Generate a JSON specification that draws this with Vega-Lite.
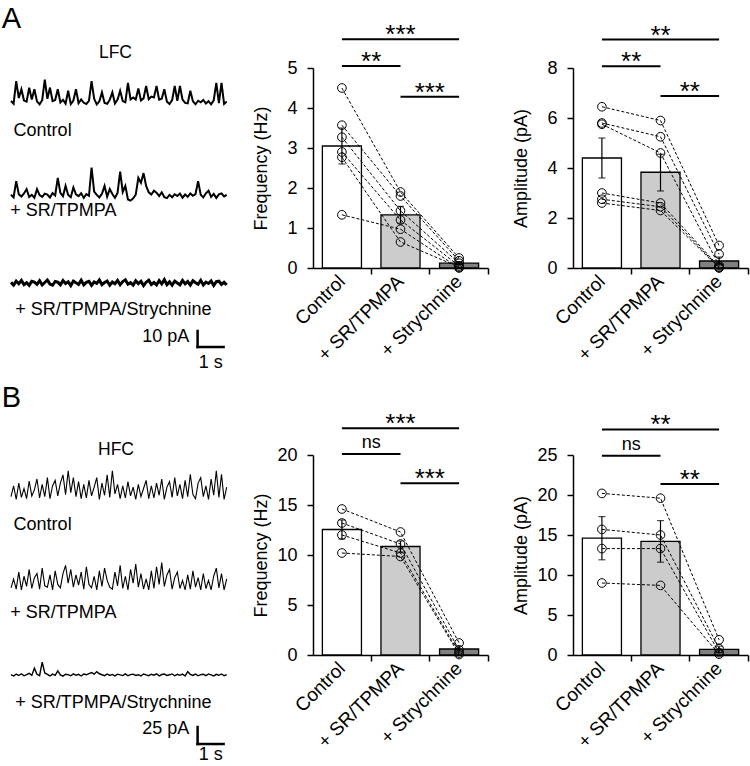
{
"$schema":"https://vega.github.io/schema/vega-lite/v6.json",
"background":"white",
"padding":{"left":1,"top":5,"right":2,"bottom":2},
"config":{"font":"Liberation Sans","view":{"stroke":null},
 "axis":{"domainColor":"black","domainWidth":1.5,"tickColor":"black","tickWidth":1.5,"tickSize":6,"labelColor":"black","titleColor":"black","labelFontSize":18,"titleFontSize":18,"titleFontWeight":"normal","grid":false,"labelFont":"Liberation Sans","titleFont":"Liberation Sans","labelOverlap":false,"tickCount":12},
 "text":{"color":"black"}},
"datasets":{
"traces":[
{"trace":"A1","t":[0,0.1,0.2,0.3,0.4,0.5,0.6,0.7,0.8,0.9,1,1.1,1.2,1.3,1.4,1.5,1.6,1.7,1.8,1.9,2,2.1,2.2,2.3,2.4,2.5,2.6,2.7,2.8,2.9,3,3.1,3.2,3.3,3.4,3.5,3.6,3.7,3.8,3.9,4,4.1,4.2,4.3,4.4,4.5,4.6,4.7,4.8,4.9,5,5.1,5.2,5.3,5.4,5.5,5.6,5.7,5.8,5.9,6,6.1,6.2,6.3,6.4,6.5,6.6,6.7,6.8,6.9,7,7.1,7.2,7.3,7.4,7.5,7.6,7.7,7.8,7.9,8,8.1,8.2,8.3],
 "v":[0.6,-1.1,13,2.5,8,0.9,0.2,9,1.5,8,0.4,-1.4,1.1,14,2.0,9,0.5,1.2,8,-0.3,1.4,-1.0,7,-1.3,0.9,8,-0.8,1.6,-0.5,-1.2,0.7,13,2.0,-1.5,0.4,6,-0.6,-1.1,1.3,6,-0.9,1.5,7,0.6,-0.2,12,1.6,2.8,1.5,8.5,1.0,2.3,10,1.8,3.4,2.9,10,1.5,2.0,8,0.2,-1.3,1.2,10,0.7,10,1.5,-0.6,-0.9,7,0.4,-1.4,0.8,-0.2,1.3,-1.0,0.5,-1.5,1.0,12,-0.7,12,-1.2,0.3]},
{"trace":"A2","t":[0,0.1,0.2,0.3,0.4,0.5,0.6,0.7,0.8,0.9,1,1.1,1.2,1.3,1.4,1.5,1.6,1.7,1.8,1.9,2,2.1,2.2,2.3,2.4,2.5,2.6,2.7,2.8,2.9,3,3.1,3.2,3.3,3.4,3.5,3.6,3.7,3.8,3.9,4,4.1,4.2,4.3,4.4,4.5,4.6,4.7,4.8,4.9,5,5.1,5.2,5.3,5.4,5.5,5.6,5.7,5.8,5.9,6,6.1,6.2,6.3,6.4,6.5,6.6,6.7,6.8,6.9,7,7.1,7.2,7.3,7.4,7.5,7.6,7.7,7.8,7.9,8,8.1,8.2,8.3],
 "v":[0.5,-1.2,9,0.8,-0.6,1.3,4,-1.0,0.4,-1.4,4,0.2,-0.9,1.2,0.6,-1.3,1.5,0.0,11,1.6,-0.5,6,0.3,-1.1,5,0.7,-0.4,1.4,-1.5,0.9,-0.2,17.5,2.5,0.4,-1.2,1.1,6,-0.7,4,0.9,-1.4,1.6,15,2.2,6,-2.5,-3.2,-1.8,0.5,11,8,14,6,2.0,0.6,3,1.8,-0.4,1.9,-1.0,-1.6,0.4,-1.1,0.8,-0.3,1.2,-1.4,0.6,-0.8,1.3,-0.2,0.9,9,0.5,-1.2,1.4,3,-0.9,1.0,-1.5,0.7,1.3,-0.6,0.4]},
{"trace":"A3","t":[0,0.1,0.2,0.3,0.4,0.5,0.6,0.7,0.8,0.9,1,1.1,1.2,1.3,1.4,1.5,1.6,1.7,1.8,1.9,2,2.1,2.2,2.3,2.4,2.5,2.6,2.7,2.8,2.9,3,3.1,3.2,3.3,3.4,3.5,3.6,3.7,3.8,3.9,4,4.1,4.2,4.3,4.4,4.5,4.6,4.7,4.8,4.9,5,5.1,5.2,5.3,5.4,5.5,5.6,5.7,5.8,5.9,6,6.1,6.2,6.3,6.4,6.5,6.6,6.7,6.8,6.9,7,7.1,7.2,7.3,7.4,7.5,7.6,7.7,7.8,7.9,8,8.1,8.2,8.3],
 "v":[0.4,-1.3,1.2,-0.5,1.6,-1.0,0.2,-1.5,1.1,0.6,-0.8,1.4,-1.2,0.3,1.8,-0.7,-1.4,1.0,0.5,-1.1,1.5,-0.3,0.8,-1.6,1.2,0.1,-0.9,1.7,-1.2,0.4,1.0,-1.5,0.7,-0.2,1.9,-1.0,0.3,1.2,-1.4,0.6,-0.5,1.6,-1.1,0.9,2.0,-0.8,0.2,-1.3,1.4,-0.4,1.1,-1.6,0.5,1.8,-0.9,0.3,-1.2,1.5,-0.6,2.1,-1.0,0.7,-1.4,1.2,0.0,-1.1,1.6,-0.5,0.9,-1.3,1.4,0.2,-0.8,1.7,-1.2,0.6,-0.3,1.3,-1.5,0.8,1.1,-0.9,0.4,-1.2]},
{"trace":"B1","t":[0,0.1,0.2,0.3,0.4,0.5,0.6,0.7,0.8,0.9,1,1.1,1.2,1.3,1.4,1.5,1.6,1.7,1.8,1.9,2,2.1,2.2,2.3,2.4,2.5,2.6,2.7,2.8,2.9,3,3.1,3.2,3.3,3.4,3.5,3.6,3.7,3.8,3.9,4,4.1,4.2,4.3,4.4,4.5,4.6,4.7,4.8,4.9,5,5.1,5.2,5.3,5.4,5.5,5.6,5.7,5.8,5.9,6,6.1,6.2,6.3,6.4,6.5,6.6,6.7,6.8,6.9,7,7.1,7.2,7.3,7.4,7.5,7.6,7.7,7.8,7.9,8,8.1,8.2,8.3],
 "v":[2,18,-2,22,1,14,-1,25,3,12,28,0,20,2,30,-1,18,26,3,22,34,5,40,8,30,2,24,-1,20,0,26,3,16,30,-2,22,4,34,1,40,6,20,-1,18,0,24,3,16,-2,20,2,14,26,-1,18,0,22,4,28,-2,16,24,1,30,3,20,-1,26,2,35,5,-1,22,30,2,18,-2,28,4,40,1,35,-2,16]},
{"trace":"B2","t":[0,0.1,0.2,0.3,0.4,0.5,0.6,0.7,0.8,0.9,1,1.1,1.2,1.3,1.4,1.5,1.6,1.7,1.8,1.9,2,2.1,2.2,2.3,2.4,2.5,2.6,2.7,2.8,2.9,3,3.1,3.2,3.3,3.4,3.5,3.6,3.7,3.8,3.9,4,4.1,4.2,4.3,4.4,4.5,4.6,4.7,4.8,4.9,5,5.1,5.2,5.3,5.4,5.5,5.6,5.7,5.8,5.9,6,6.1,6.2,6.3,6.4,6.5,6.6,6.7,6.8,6.9,7,7.1,7.2,7.3,7.4,7.5,7.6,7.7,7.8,7.9,8,8.1,8.2,8.3],
 "v":[1,14,-1,24,-2,18,3,28,0,16,22,-1,30,4,2,20,-2,26,6,1,22,34,8,28,2,20,5,24,-1,32,6,1,18,-2,26,3,30,12,2,-1,24,4,34,0,18,-2,28,8,36,2,22,-1,14,-2,26,0,32,6,38,3,20,28,-1,16,24,0,12,-2,20,-1,26,2,16,-2,22,0,12,-2,18,30,1,22,-2,14]},
{"trace":"B3","t":[0,0.1,0.2,0.3,0.4,0.5,0.6,0.7,0.8,0.9,1,1.1,1.2,1.3,1.4,1.5,1.6,1.7,1.8,1.9,2,2.1,2.2,2.3,2.4,2.5,2.6,2.7,2.8,2.9,3,3.1,3.2,3.3,3.4,3.5,3.6,3.7,3.8,3.9,4,4.1,4.2,4.3,4.4,4.5,4.6,4.7,4.8,4.9,5,5.1,5.2,5.3,5.4,5.5,5.6,5.7,5.8,5.9,6,6.1,6.2,6.3,6.4,6.5,6.6,6.7,6.8,6.9,7,7.1,7.2,7.3,7.4,7.5,7.6,7.7,7.8,7.9,8,8.1,8.2,8.3],
 "v":[0.5,-1.5,1.2,-0.8,1.8,-1.2,0.4,2.5,-0.6,10,1.0,-0.9,19,3.0,0.8,-1.4,1.3,-0.5,6,0.2,-1.6,1.1,0.5,-1.2,1.6,-0.4,0.9,-1.5,1.4,0.3,2.0,3.5,1.2,5,1.8,0.4,-1.0,1.5,-0.6,0.8,-1.3,1.2,0.1,-0.9,1.7,-1.1,0.6,1.3,-0.7,0.4,-1.4,1.5,0.2,-1.0,1.1,-0.3,1.8,-1.2,0.7,1.4,-0.8,0.3,1.6,-1.1,0.9,-0.5,1.3,-1.4,5,1.0,-0.6,1.4,-1.2,0.5,1.1,-0.9,1.6,0.2,-1.3,1.0,-0.4,1.5,-1.1,0.6]}
],
"bars":[
 {"panel":"fA","cond":"Control","mean":3.05,"lo":2.6,"hi":3.5},
 {"panel":"fA","cond":"+ SR/TPMPA","mean":1.33,"lo":1.12,"hi":1.54},
 {"panel":"fA","cond":"+ Strychnine","mean":0.12,"lo":0.08,"hi":0.16},
 {"panel":"aA","cond":"Control","mean":4.4,"lo":3.6,"hi":5.2},
 {"panel":"aA","cond":"+ SR/TPMPA","mean":3.83,"lo":3.08,"hi":4.55},
 {"panel":"aA","cond":"+ Strychnine","mean":0.28,"lo":0.12,"hi":0.44},
 {"panel":"fB","cond":"Control","mean":12.55,"lo":11.6,"hi":13.5},
 {"panel":"fB","cond":"+ SR/TPMPA","mean":10.85,"lo":10.3,"hi":11.4},
 {"panel":"fB","cond":"+ Strychnine","mean":0.6,"lo":0.3,"hi":0.9},
 {"panel":"aB","cond":"Control","mean":14.6,"lo":11.9,"hi":17.3},
 {"panel":"aB","cond":"+ SR/TPMPA","mean":14.2,"lo":11.6,"hi":16.8},
 {"panel":"aB","cond":"+ Strychnine","mean":0.7,"lo":0.3,"hi":1.1}
],
"pts":[
 {"panel":"fA","cond":"Control","k":1,"cell":[1,2,3,4,5,6],"val":[4.5,3.57,3.27,2.9,2.77,1.33]},
 {"panel":"fA","cond":"+ SR/TPMPA","k":2,"cell":[1,2,3,4,5,6],"val":[1.9,1.8,1.43,1.2,0.65,0.97]},
 {"panel":"fA","cond":"+ Strychnine","k":3,"cell":[1,2,3,4,5,6],"val":[0.25,0.18,0.12,0.05,0.02,0.0]},
 {"panel":"aA","cond":"Control","k":1,"cell":[1,2,3,4,5,6],"val":[6.45,5.8,5.75,3.0,2.75,2.6]},
 {"panel":"aA","cond":"+ SR/TPMPA","k":2,"cell":[1,2,3,4,5,6],"val":[5.9,5.25,4.6,2.6,2.45,2.3]},
 {"panel":"aA","cond":"+ Strychnine","k":3,"cell":[1,2,3,4,5,6],"val":[0.9,0.55,0.1,0.05,0.02,0.0]},
 {"panel":"fB","cond":"Control","k":1,"cell":[1,2,3,4],"val":[14.6,13.2,12.0,10.2]},
 {"panel":"fB","cond":"+ SR/TPMPA","k":2,"cell":[1,2,3,4],"val":[12.3,11.1,10.2,9.85]},
 {"panel":"fB","cond":"+ Strychnine","k":3,"cell":[1,2,3,4],"val":[1.2,0.5,0.2,0.05]},
 {"panel":"aB","cond":"Control","k":1,"cell":[1,2,3,4],"val":[20.2,15.7,13.3,9.0]},
 {"panel":"aB","cond":"+ SR/TPMPA","k":2,"cell":[1,2,3,4],"val":[19.6,15.0,13.3,8.7]},
 {"panel":"aB","cond":"+ Strychnine","k":3,"cell":[1,2,3,4],"val":[1.9,0.8,0.3,0.1]}
],
"sig":[
 {"panel":"fA","g1":"Control","g2":"+ Strychnine","span":"wide","level":5.72,"label":"***"},
 {"panel":"fA","g1":"Control","g2":"+ SR/TPMPA","span":"pair","level":5.05,"label":"**"},
 {"panel":"fA","g1":"+ SR/TPMPA","g2":"+ Strychnine","span":"pair","level":4.28,"label":"***"},
 {"panel":"aA","g1":"Control","g2":"+ Strychnine","span":"wide","level":9.14,"label":"**"},
 {"panel":"aA","g1":"Control","g2":"+ SR/TPMPA","span":"pair","level":8.07,"label":"**"},
 {"panel":"aA","g1":"+ SR/TPMPA","g2":"+ Strychnine","span":"pair","level":6.88,"label":"**"},
 {"panel":"fB","g1":"Control","g2":"+ Strychnine","span":"wide","level":22.67,"label":"***"},
 {"panel":"fB","g1":"Control","g2":"+ SR/TPMPA","span":"pair","level":20.1,"label":"ns"},
 {"panel":"fB","g1":"+ SR/TPMPA","g2":"+ Strychnine","span":"pair","level":17.17,"label":"***"},
 {"panel":"aB","g1":"Control","g2":"+ Strychnine","span":"wide","level":28.2,"label":"**"},
 {"panel":"aB","g1":"Control","g2":"+ SR/TPMPA","span":"pair","level":24.9,"label":"ns"},
 {"panel":"aB","g1":"+ SR/TPMPA","g2":"+ Strychnine","span":"pair","level":21.36,"label":"**"}
]
},
"columns":3,
"spacing":{"row":87,"column":85},
"bounds":"flush",
"align":"each",
"concat":[
{"width":217,"height":300,"resolve":{"scale":{"y":"independent"}},
 "layer":[
  {"layer":[
   {"data":{"name":"traces"},"transform":[{"filter":"datum.trace==='A1'"},{"flatten":["t","v"]}],"mark":{"type":"line","color":"black","strokeWidth":2},
    "encoding":{"x":{"field":"t","type":"quantitative","scale":{"domain":[0,8.35],"nice":false,"zero":false},"axis":null},"y":{"field":"v","type":"quantitative","scale":{"domain":[-166.25,21.25],"nice":false,"zero":false},"axis":null}}},
   {"data":{"values":[{}]},"mark":{"type":"text","text":"A","fontSize":29,"align":"left","baseline":"alphabetic"},"encoding":{"x":{"datum":-0.36},"y":{"datum":46.25}}},
   {"data":{"values":[{}]},"mark":{"type":"text","text":"LFC","fontSize":17.5,"align":"center","baseline":"alphabetic"},"encoding":{"x":{"datum":4.02},"y":{"datum":27.3}}},
   {"data":{"values":[{}]},"mark":{"type":"text","text":"Control","fontSize":18,"align":"left","baseline":"alphabetic"},"encoding":{"x":{"datum":0.1},"y":{"datum":-21.25}}}
  ]},
  {"layer":[
   {"data":{"name":"traces"},"transform":[{"filter":"datum.trace==='A2'"},{"flatten":["t","v"]}],"mark":{"type":"line","color":"black","strokeWidth":2},
    "encoding":{"x":{"field":"t","type":"quantitative","scale":{"domain":[0,8.35],"nice":false,"zero":false},"axis":null},"y":{"field":"v","type":"quantitative","scale":{"domain":[-107.81,79.69],"nice":false,"zero":false},"axis":null}}},
   {"data":{"values":[{}]},"mark":{"type":"text","text":"+ SR/TPMPA","fontSize":18,"align":"left","baseline":"alphabetic"},"encoding":{"x":{"datum":-0.03},"y":{"datum":-12.81}}}
  ]},
  {"layer":[
   {"data":{"name":"traces"},"transform":[{"filter":"datum.trace==='A3'"},{"flatten":["t","v"]}],"mark":{"type":"line","color":"black","strokeWidth":3},
    "encoding":{"x":{"field":"t","type":"quantitative","scale":{"domain":[0,8.35],"nice":false,"zero":false},"axis":null},"y":{"field":"v","type":"quantitative","scale":{"domain":[-53.125,134.375],"nice":false,"zero":false},"axis":null}}},
   {"data":{"values":[{}]},"mark":{"type":"text","text":"+ SR/TPMPA/Strychnine","fontSize":18,"align":"left","baseline":"alphabetic"},"encoding":{"x":{"datum":0.165},"y":{"datum":-20}}},
   {"data":{"values":[{}]},"mark":{"type":"text","text":"10 pA","fontSize":18,"align":"right","baseline":"alphabetic"},"encoding":{"x":{"datum":6.86},"y":{"datum":-36.875}}},
   {"data":{"values":[{}]},"mark":{"type":"rule","color":"black","strokeWidth":2.5,"strokeCap":"square"},"encoding":{"x":{"datum":7.18},"y":{"datum":-40},"y2":{"datum":-30}}},
   {"data":{"values":[{}]},"mark":{"type":"rule","color":"black","strokeWidth":2.5,"strokeCap":"square"},"encoding":{"x":{"datum":7.18},"x2":{"datum":8.18},"y":{"datum":-40}}},
   {"data":{"values":[{}]},"mark":{"type":"text","text":"1 s","fontSize":18,"align":"center","baseline":"alphabetic"},"encoding":{"x":{"datum":7.69},"y":{"datum":-53.125}}}
  ]}
 ]},
{"width":175,"height":200,
 "layer":[
  {"data":{"name":"bars"},"transform":[{"filter":"datum.panel==='fA'"}],"mark":{"type":"bar","stroke":"black","strokeWidth":1.3},
   "encoding":{"x":{"field":"cond","type":"nominal","title":null,"scale":{"domain":["Control","+ SR/TPMPA","+ Strychnine"],"paddingInner":0.333,"paddingOuter":0.16},"axis":{"labelAngle":-45,"labelAlign":"right","labelBaseline":"middle","labelPadding":4,"labelFontSize":19,"bandPosition":1.25}},
    "y":{"field":"mean","type":"quantitative","title":"Frequency (Hz)","scale":{"domain":[0,5],"nice":false},"axis":{"values":[0,1,2,3,4,5],"format":"d","titleX":-43,"labelPadding":10}},
    "fill":{"field":"cond","type":"nominal","scale":{"domain":["Control","+ SR/TPMPA","+ Strychnine"],"range":["#ffffff","#cccccc","#808080"]},"legend":null}}},
  {"data":{"name":"bars"},"transform":[{"filter":"datum.panel==='fA'"}],"mark":{"type":"rule","color":"black","strokeWidth":1.2},
   "encoding":{"x":{"field":"cond","type":"nominal"},"y":{"field":"lo","type":"quantitative"},"y2":{"field":"hi"}}},
  {"data":{"name":"bars"},"transform":[{"filter":"datum.panel==='fA'"}],"mark":{"type":"tick","color":"black","thickness":1.2,"size":7},
   "encoding":{"x":{"field":"cond","type":"nominal"},"y":{"field":"lo","type":"quantitative"}}},
  {"data":{"name":"bars"},"transform":[{"filter":"datum.panel==='fA'"}],"mark":{"type":"tick","color":"black","thickness":1.2,"size":7},
   "encoding":{"x":{"field":"cond","type":"nominal"},"y":{"field":"hi","type":"quantitative"}}},
  {"data":{"name":"pts"},"transform":[{"filter":"datum.panel==='fA'"},{"flatten":["cell","val"]}],"mark":{"type":"line","color":"black","strokeWidth":1,"strokeDash":[3,2]},
   "encoding":{"x":{"field":"cond","type":"nominal"},"y":{"field":"val","type":"quantitative"},"detail":{"field":"cell","type":"nominal"},"order":{"field":"k","type":"quantitative"}}},
  {"data":{"name":"pts"},"transform":[{"filter":"datum.panel==='fA'"},{"flatten":["cell","val"]}],"mark":{"type":"point","shape":"circle","filled":false,"color":"black","strokeWidth":1,"size":75,"opacity":1},
   "encoding":{"x":{"field":"cond","type":"nominal"},"y":{"field":"val","type":"quantitative"}}},
  {"data":{"name":"sig"},"transform":[{"filter":"datum.panel==='fA'"}],"mark":{"type":"rule","color":"black","strokeWidth":2},
   "encoding":{"x":{"field":"g1","type":"nominal","bandPosition":0.5},"x2":{"field":"g2","bandPosition":0.5},"y":{"field":"level","type":"quantitative"}}},
  {"data":{"name":"sig"},"transform":[{"filter":"datum.panel==='fA' && datum.span==='wide'"}],"mark":{"type":"text","fontSize":26,"dy":4,"align":"center","baseline":"alphabetic"},
   "encoding":{"x":{"field":"g1","type":"nominal","bandPosition":2},"y":{"field":"level","type":"quantitative"},"text":{"field":"label"}}},
  {"data":{"name":"sig"},"transform":[{"filter":"datum.panel==='fA' && datum.span==='pair' && datum.label!=='ns'"}],"mark":{"type":"text","fontSize":26,"dy":4,"align":"center","baseline":"alphabetic"},
   "encoding":{"x":{"field":"g1","type":"nominal","bandPosition":1.25},"y":{"field":"level","type":"quantitative"},"text":{"field":"label"}}}
 ]},
{"width":175,"height":200,
 "layer":[
  {"data":{"name":"bars"},"transform":[{"filter":"datum.panel==='aA'"}],"mark":{"type":"bar","stroke":"black","strokeWidth":1.3},
   "encoding":{"x":{"field":"cond","type":"nominal","title":null,"scale":{"domain":["Control","+ SR/TPMPA","+ Strychnine"],"paddingInner":0.333,"paddingOuter":0.16},"axis":{"labelAngle":-45,"labelAlign":"right","labelBaseline":"middle","labelPadding":4,"labelFontSize":19,"bandPosition":1.25}},
    "y":{"field":"mean","type":"quantitative","title":"Amplitude (pA)","scale":{"domain":[0,8],"nice":false},"axis":{"values":[0,2,4,6,8],"format":"d","titleX":-43,"labelPadding":10}},
    "fill":{"field":"cond","type":"nominal","scale":{"domain":["Control","+ SR/TPMPA","+ Strychnine"],"range":["#ffffff","#cccccc","#808080"]},"legend":null}}},
  {"data":{"name":"bars"},"transform":[{"filter":"datum.panel==='aA'"}],"mark":{"type":"rule","color":"black","strokeWidth":1.2},
   "encoding":{"x":{"field":"cond","type":"nominal"},"y":{"field":"lo","type":"quantitative"},"y2":{"field":"hi"}}},
  {"data":{"name":"bars"},"transform":[{"filter":"datum.panel==='aA'"}],"mark":{"type":"tick","color":"black","thickness":1.2,"size":7},
   "encoding":{"x":{"field":"cond","type":"nominal"},"y":{"field":"lo","type":"quantitative"}}},
  {"data":{"name":"bars"},"transform":[{"filter":"datum.panel==='aA'"}],"mark":{"type":"tick","color":"black","thickness":1.2,"size":7},
   "encoding":{"x":{"field":"cond","type":"nominal"},"y":{"field":"hi","type":"quantitative"}}},
  {"data":{"name":"pts"},"transform":[{"filter":"datum.panel==='aA'"},{"flatten":["cell","val"]}],"mark":{"type":"line","color":"black","strokeWidth":1,"strokeDash":[3,2]},
   "encoding":{"x":{"field":"cond","type":"nominal"},"y":{"field":"val","type":"quantitative"},"detail":{"field":"cell","type":"nominal"},"order":{"field":"k","type":"quantitative"}}},
  {"data":{"name":"pts"},"transform":[{"filter":"datum.panel==='aA'"},{"flatten":["cell","val"]}],"mark":{"type":"point","shape":"circle","filled":false,"color":"black","strokeWidth":1,"size":75,"opacity":1},
   "encoding":{"x":{"field":"cond","type":"nominal"},"y":{"field":"val","type":"quantitative"}}},
  {"data":{"name":"sig"},"transform":[{"filter":"datum.panel==='aA'"}],"mark":{"type":"rule","color":"black","strokeWidth":2},
   "encoding":{"x":{"field":"g1","type":"nominal","bandPosition":0.5},"x2":{"field":"g2","bandPosition":0.5},"y":{"field":"level","type":"quantitative"}}},
  {"data":{"name":"sig"},"transform":[{"filter":"datum.panel==='aA' && datum.span==='wide'"}],"mark":{"type":"text","fontSize":26,"dy":4,"align":"center","baseline":"alphabetic"},
   "encoding":{"x":{"field":"g1","type":"nominal","bandPosition":2},"y":{"field":"level","type":"quantitative"},"text":{"field":"label"}}},
  {"data":{"name":"sig"},"transform":[{"filter":"datum.panel==='aA' && datum.span==='pair' && datum.label!=='ns'"}],"mark":{"type":"text","fontSize":26,"dy":4,"align":"center","baseline":"alphabetic"},
   "encoding":{"x":{"field":"g1","type":"nominal","bandPosition":1.25},"y":{"field":"level","type":"quantitative"},"text":{"field":"label"}}}
 ]},
{"width":217,"height":300,"resolve":{"scale":{"y":"independent"}},
 "layer":[
  {"layer":[
   {"data":{"name":"traces"},"transform":[{"filter":"datum.trace==='B1'"},{"flatten":["t","v"]}],"mark":{"type":"line","color":"black","strokeWidth":1.1},
    "encoding":{"x":{"field":"t","type":"quantitative","scale":{"domain":[0,8.35],"nice":false,"zero":false},"axis":null},"y":{"field":"v","type":"quantitative","scale":{"domain":[-377.94,63.24],"nice":false,"zero":false},"axis":null}}},
   {"data":{"values":[{}]},"mark":{"type":"text","text":"B","fontSize":29,"align":"left","baseline":"alphabetic"},"encoding":{"x":{"datum":-0.36},"y":{"datum":133.8}}},
   {"data":{"values":[{}]},"mark":{"type":"text","text":"HFC","fontSize":17.5,"align":"center","baseline":"alphabetic"},"encoding":{"x":{"datum":4.04},"y":{"datum":63.24}}},
   {"data":{"values":[{}]},"mark":{"type":"text","text":"Control","fontSize":18,"align":"left","baseline":"alphabetic"},"encoding":{"x":{"datum":0.1},"y":{"datum":-47.06}}}
  ]},
  {"layer":[
   {"data":{"name":"traces"},"transform":[{"filter":"datum.trace==='B2'"},{"flatten":["t","v"]}],"mark":{"type":"line","color":"black","strokeWidth":1.1},
    "encoding":{"x":{"field":"t","type":"quantitative","scale":{"domain":[0,8.35],"nice":false,"zero":false},"axis":null},"y":{"field":"v","type":"quantitative","scale":{"domain":[-244.86,196.32],"nice":false,"zero":false},"axis":null}}},
   {"data":{"values":[{}]},"mark":{"type":"text","text":"+ SR/TPMPA","fontSize":18,"align":"left","baseline":"alphabetic"},"encoding":{"x":{"datum":-0.03},"y":{"datum":-43.4}}}
  ]},
  {"layer":[
   {"data":{"name":"traces"},"transform":[{"filter":"datum.trace==='B3'"},{"flatten":["t","v"]}],"mark":{"type":"line","color":"black","strokeWidth":1.4},
    "encoding":{"x":{"field":"t","type":"quantitative","scale":{"domain":[0,8.35],"nice":false,"zero":false},"axis":null},"y":{"field":"v","type":"quantitative","scale":{"domain":[-117.65,323.53],"nice":false,"zero":false},"axis":null}}},
   {"data":{"values":[{}]},"mark":{"type":"text","text":"+ SR/TPMPA/Strychnine","fontSize":18,"align":"left","baseline":"alphabetic"},"encoding":{"x":{"datum":0.165},"y":{"datum":-48.5}}},
   {"data":{"values":[{}]},"mark":{"type":"text","text":"25 pA","fontSize":18,"align":"right","baseline":"alphabetic"},"encoding":{"x":{"datum":6.86},"y":{"datum":-86.8}}},
   {"data":{"values":[{}]},"mark":{"type":"rule","color":"black","strokeWidth":2.5,"strokeCap":"square"},"encoding":{"x":{"datum":7.18},"y":{"datum":-101.5},"y2":{"datum":-76.5}}},
   {"data":{"values":[{}]},"mark":{"type":"rule","color":"black","strokeWidth":2.5,"strokeCap":"square"},"encoding":{"x":{"datum":7.18},"x2":{"datum":8.18},"y":{"datum":-101.5}}},
   {"data":{"values":[{}]},"mark":{"type":"text","text":"1 s","fontSize":18,"align":"center","baseline":"alphabetic"},"encoding":{"x":{"datum":7.69},"y":{"datum":-125}}}
  ]}
 ]},
{"width":175,"height":200,
 "layer":[
  {"data":{"name":"bars"},"transform":[{"filter":"datum.panel==='fB'"}],"mark":{"type":"bar","stroke":"black","strokeWidth":1.3},
   "encoding":{"x":{"field":"cond","type":"nominal","title":null,"scale":{"domain":["Control","+ SR/TPMPA","+ Strychnine"],"paddingInner":0.333,"paddingOuter":0.16},"axis":{"labelAngle":-45,"labelAlign":"right","labelBaseline":"middle","labelPadding":4,"labelFontSize":19,"bandPosition":1.25}},
    "y":{"field":"mean","type":"quantitative","title":"Frequency (Hz)","scale":{"domain":[0,20],"nice":false},"axis":{"values":[0,5,10,15,20],"format":"d","titleX":-43,"labelPadding":10}},
    "fill":{"field":"cond","type":"nominal","scale":{"domain":["Control","+ SR/TPMPA","+ Strychnine"],"range":["#ffffff","#cccccc","#808080"]},"legend":null}}},
  {"data":{"name":"bars"},"transform":[{"filter":"datum.panel==='fB'"}],"mark":{"type":"rule","color":"black","strokeWidth":1.2},
   "encoding":{"x":{"field":"cond","type":"nominal"},"y":{"field":"lo","type":"quantitative"},"y2":{"field":"hi"}}},
  {"data":{"name":"bars"},"transform":[{"filter":"datum.panel==='fB'"}],"mark":{"type":"tick","color":"black","thickness":1.2,"size":7},
   "encoding":{"x":{"field":"cond","type":"nominal"},"y":{"field":"lo","type":"quantitative"}}},
  {"data":{"name":"bars"},"transform":[{"filter":"datum.panel==='fB'"}],"mark":{"type":"tick","color":"black","thickness":1.2,"size":7},
   "encoding":{"x":{"field":"cond","type":"nominal"},"y":{"field":"hi","type":"quantitative"}}},
  {"data":{"name":"pts"},"transform":[{"filter":"datum.panel==='fB'"},{"flatten":["cell","val"]}],"mark":{"type":"line","color":"black","strokeWidth":1,"strokeDash":[3,2]},
   "encoding":{"x":{"field":"cond","type":"nominal"},"y":{"field":"val","type":"quantitative"},"detail":{"field":"cell","type":"nominal"},"order":{"field":"k","type":"quantitative"}}},
  {"data":{"name":"pts"},"transform":[{"filter":"datum.panel==='fB'"},{"flatten":["cell","val"]}],"mark":{"type":"point","shape":"circle","filled":false,"color":"black","strokeWidth":1,"size":75,"opacity":1},
   "encoding":{"x":{"field":"cond","type":"nominal"},"y":{"field":"val","type":"quantitative"}}},
  {"data":{"name":"sig"},"transform":[{"filter":"datum.panel==='fB'"}],"mark":{"type":"rule","color":"black","strokeWidth":2},
   "encoding":{"x":{"field":"g1","type":"nominal","bandPosition":0.5},"x2":{"field":"g2","bandPosition":0.5},"y":{"field":"level","type":"quantitative"}}},
  {"data":{"name":"sig"},"transform":[{"filter":"datum.panel==='fB' && datum.span==='wide'"}],"mark":{"type":"text","fontSize":26,"dy":4,"align":"center","baseline":"alphabetic"},
   "encoding":{"x":{"field":"g1","type":"nominal","bandPosition":2},"y":{"field":"level","type":"quantitative"},"text":{"field":"label"}}},
  {"data":{"name":"sig"},"transform":[{"filter":"datum.panel==='fB' && datum.span==='pair' && datum.label!=='ns'"}],"mark":{"type":"text","fontSize":26,"dy":4,"align":"center","baseline":"alphabetic"},
   "encoding":{"x":{"field":"g1","type":"nominal","bandPosition":1.25},"y":{"field":"level","type":"quantitative"},"text":{"field":"label"}}},
  {"data":{"name":"sig"},"transform":[{"filter":"datum.panel==='fB' && datum.label==='ns'"}],"mark":{"type":"text","fontSize":18,"dy":-6,"align":"center","baseline":"alphabetic"},
   "encoding":{"x":{"field":"g1","type":"nominal","bandPosition":1.25},"y":{"field":"level","type":"quantitative"},"text":{"field":"label"}}}
 ]},
{"width":175,"height":200,
 "layer":[
  {"data":{"name":"bars"},"transform":[{"filter":"datum.panel==='aB'"}],"mark":{"type":"bar","stroke":"black","strokeWidth":1.3},
   "encoding":{"x":{"field":"cond","type":"nominal","title":null,"scale":{"domain":["Control","+ SR/TPMPA","+ Strychnine"],"paddingInner":0.333,"paddingOuter":0.16},"axis":{"labelAngle":-45,"labelAlign":"right","labelBaseline":"middle","labelPadding":4,"labelFontSize":19,"bandPosition":1.25}},
    "y":{"field":"mean","type":"quantitative","title":"Amplitude (pA)","scale":{"domain":[0,25],"nice":false},"axis":{"values":[0,5,10,15,20,25],"format":"d","titleX":-43,"labelPadding":10}},
    "fill":{"field":"cond","type":"nominal","scale":{"domain":["Control","+ SR/TPMPA","+ Strychnine"],"range":["#ffffff","#cccccc","#808080"]},"legend":null}}},
  {"data":{"name":"bars"},"transform":[{"filter":"datum.panel==='aB'"}],"mark":{"type":"rule","color":"black","strokeWidth":1.2},
   "encoding":{"x":{"field":"cond","type":"nominal"},"y":{"field":"lo","type":"quantitative"},"y2":{"field":"hi"}}},
  {"data":{"name":"bars"},"transform":[{"filter":"datum.panel==='aB'"}],"mark":{"type":"tick","color":"black","thickness":1.2,"size":7},
   "encoding":{"x":{"field":"cond","type":"nominal"},"y":{"field":"lo","type":"quantitative"}}},
  {"data":{"name":"bars"},"transform":[{"filter":"datum.panel==='aB'"}],"mark":{"type":"tick","color":"black","thickness":1.2,"size":7},
   "encoding":{"x":{"field":"cond","type":"nominal"},"y":{"field":"hi","type":"quantitative"}}},
  {"data":{"name":"pts"},"transform":[{"filter":"datum.panel==='aB'"},{"flatten":["cell","val"]}],"mark":{"type":"line","color":"black","strokeWidth":1,"strokeDash":[3,2]},
   "encoding":{"x":{"field":"cond","type":"nominal"},"y":{"field":"val","type":"quantitative"},"detail":{"field":"cell","type":"nominal"},"order":{"field":"k","type":"quantitative"}}},
  {"data":{"name":"pts"},"transform":[{"filter":"datum.panel==='aB'"},{"flatten":["cell","val"]}],"mark":{"type":"point","shape":"circle","filled":false,"color":"black","strokeWidth":1,"size":75,"opacity":1},
   "encoding":{"x":{"field":"cond","type":"nominal"},"y":{"field":"val","type":"quantitative"}}},
  {"data":{"name":"sig"},"transform":[{"filter":"datum.panel==='aB'"}],"mark":{"type":"rule","color":"black","strokeWidth":2},
   "encoding":{"x":{"field":"g1","type":"nominal","bandPosition":0.5},"x2":{"field":"g2","bandPosition":0.5},"y":{"field":"level","type":"quantitative"}}},
  {"data":{"name":"sig"},"transform":[{"filter":"datum.panel==='aB' && datum.span==='wide'"}],"mark":{"type":"text","fontSize":26,"dy":4,"align":"center","baseline":"alphabetic"},
   "encoding":{"x":{"field":"g1","type":"nominal","bandPosition":2},"y":{"field":"level","type":"quantitative"},"text":{"field":"label"}}},
  {"data":{"name":"sig"},"transform":[{"filter":"datum.panel==='aB' && datum.span==='pair' && datum.label!=='ns'"}],"mark":{"type":"text","fontSize":26,"dy":4,"align":"center","baseline":"alphabetic"},
   "encoding":{"x":{"field":"g1","type":"nominal","bandPosition":1.25},"y":{"field":"level","type":"quantitative"},"text":{"field":"label"}}},
  {"data":{"name":"sig"},"transform":[{"filter":"datum.panel==='aB' && datum.label==='ns'"}],"mark":{"type":"text","fontSize":18,"dy":-6,"align":"center","baseline":"alphabetic"},
   "encoding":{"x":{"field":"g1","type":"nominal","bandPosition":1.25},"y":{"field":"level","type":"quantitative"},"text":{"field":"label"}}}
 ]}
]
}
